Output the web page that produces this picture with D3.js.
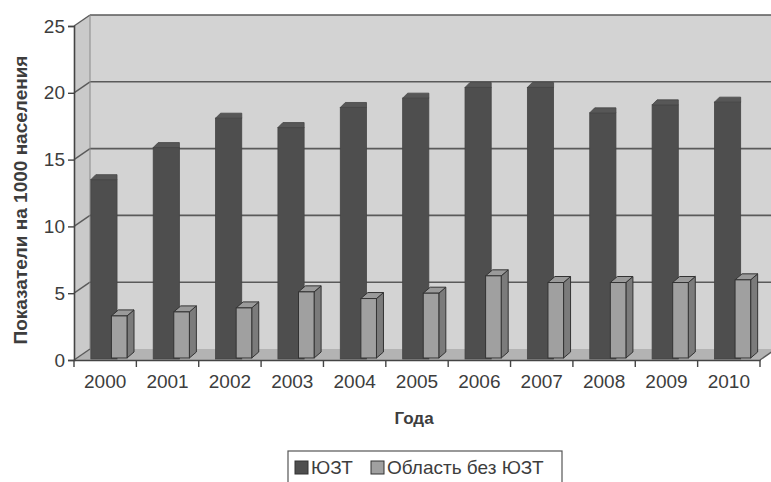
<!DOCTYPE html>
<html>
<head>
<meta charset="utf-8">
<script src="https://cdn.jsdelivr.net/npm/d3@7"></script>
<style>
  html, body { margin: 0; padding: 0; background: #fff; }
  svg { display: block; }
</style>
</head>
<body>
<svg id="chart" width="771" height="482"></svg>
<script>
// Years on the category axis
const years = ["2000", "2001", "2002", "2003", "2004", "2005", "2006", "2007", "2008", "2009", "2010"];
// Rates per 1000 population
const yztValues = [13.5, 15.9, 18.1, 17.4, 18.9, 19.6, 20.4, 20.4, 18.5, 19.1, 19.3];
const regionValues = [3.3, 3.6, 3.9, 5.1, 4.6, 5.0, 6.3, 5.8, 5.8, 5.8, 6.0];
const seriesNames = ["ЮЗТ", "Область без ЮЗТ"];
const yTicks = [0, 5, 10, 15, 20, 25];

const svg = d3.select("#chart");
const font = "'Liberation Sans', Arial, sans-serif";
const textColor = "#3d3d3d";

// Front plane of the 3D box
const x0 = 74, x1 = 760, yBottom = 360, yTop = 26;
// Depth offset to the back wall
const dx = 16, dy = 11;

const x = d3.scaleBand().domain(years).range([x0, x1]).padding(0);
const y = d3.scaleLinear().domain([0, 25]).range([yBottom, yTop]);

const g = svg.append("g");

// Back wall
g.append("rect")
  .attr("x", x0 + dx).attr("y", yTop - dy)
  .attr("width", 771 - (x0 + dx) + 2).attr("height", yBottom - yTop)
  .attr("fill", "#d3d3d3");

// Left side wall
g.append("path")
  .attr("d", `M${x0},${yTop} L${x0 + dx},${yTop - dy} L${x0 + dx},${yBottom - dy} L${x0},${yBottom} Z`)
  .attr("fill", "#cacaca");

// Floor
g.append("path")
  .attr("d", `M${x0},${yBottom} L${x0 + dx},${yBottom - dy} L${x1 + dx},${yBottom - dy} L${x1},${yBottom} Z`)
  .attr("fill", "#b3b3b3");

// Gridlines on the back wall
g.selectAll("line.grid").data(yTicks.filter(t => t > 0)).join("line")
  .attr("class", "grid")
  .attr("x1", x0 + dx).attr("x2", 771)
  .attr("y1", d => y(d) - dy).attr("y2", d => y(d) - dy)
  .attr("stroke", "#5a5a5a").attr("stroke-width", 1.6);

// Diagonal tick connectors on the side wall
g.selectAll("line.diag").data(yTicks).join("line")
  .attr("class", "diag")
  .attr("x1", x0).attr("y1", d => y(d))
  .attr("x2", x0 + dx).attr("y2", d => y(d) - dy)
  .attr("stroke", "#5a5a5a").attr("stroke-width", 1.4);

// Back wall left edge
g.append("line")
  .attr("x1", x0 + dx).attr("x2", x0 + dx)
  .attr("y1", yTop - dy).attr("y2", yBottom - dy)
  .attr("stroke", "#8a8a8a").attr("stroke-width", 1);

// Right floor edge
g.append("line")
  .attr("x1", x1).attr("y1", yBottom).attr("x2", x1 + dx).attr("y2", yBottom - dy)
  .attr("stroke", "#5a5a5a").attr("stroke-width", 1.4);

const bw = x.bandwidth();

// ЮЗТ columns (dark), drawn first so the other series sits in front
const darkCut = 5;
const darkG = g.append("g");
years.forEach((yr, i) => {
  const bx = x(yr) + bw * 0.27, w = bw * 0.42;
  const top = y(yztValues[i]);
  darkG.append("rect")
    .attr("x", bx).attr("y", top).attr("width", w).attr("height", yBottom - 1 - top)
    .attr("fill", "#4e4e4e").attr("stroke", "#454545").attr("stroke-width", 0.8);
  darkG.append("path")
    .attr("d", `M${bx},${top} L${bx + darkCut},${top - darkCut} L${bx + w},${top - darkCut} L${bx + w},${top} Z`)
    .attr("fill", "#575757").attr("stroke", "#454545").attr("stroke-width", 0.8);
});

// Область без ЮЗТ columns (light, with visible side and top faces)
const ldx = 7, ldy = 6;
const lightG = g.append("g");
years.forEach((yr, i) => {
  const bx = x(yr) + bw * 0.6, w = bw * 0.25;
  const top = y(regionValues[i]);
  const base = yBottom - 2;
  lightG.append("path")
    .attr("d", `M${bx + w},${top} L${bx + w + ldx},${top - ldy} L${bx + w + ldx},${base - ldy} L${bx + w},${base} Z`)
    .attr("fill", "#7b7b7b").attr("stroke", "#333").attr("stroke-width", 1);
  lightG.append("path")
    .attr("d", `M${bx},${top} L${bx + ldx},${top - ldy} L${bx + w + ldx},${top - ldy} L${bx + w},${top} Z`)
    .attr("fill", "#9a9a9a").attr("stroke", "#333").attr("stroke-width", 1);
  lightG.append("rect")
    .attr("x", bx).attr("y", top).attr("width", w).attr("height", base - top)
    .attr("fill", "#a0a0a0").attr("stroke", "#333").attr("stroke-width", 1);
});

// Value axis
const yAxis = d3.axisLeft(y).tickValues(yTicks).tickSize(6).tickPadding(3);
const ya = svg.append("g").attr("transform", `translate(${x0},0)`).call(yAxis);
ya.select(".domain").attr("stroke", "#444").attr("stroke-width", 1.6);
ya.selectAll(".tick line").attr("stroke", "#444").attr("stroke-width", 1.4);
ya.selectAll(".tick text").attr("font-family", font).attr("font-size", 19).attr("fill", textColor);

// Category axis
const xAxis = d3.axisBottom(x).tickSize(0).tickPadding(15);
const xa = svg.append("g").attr("transform", `translate(0,${yBottom})`).call(xAxis);
xa.select(".domain").attr("stroke", "#444").attr("stroke-width", 1.6);
xa.selectAll(".tick text").attr("font-family", font).attr("font-size", 19).attr("fill", textColor);
// Tick marks between categories
svg.append("g").selectAll("line").data(d3.range(years.length + 1)).join("line")
  .attr("x1", i => x0 + i * bw).attr("x2", i => x0 + i * bw)
  .attr("y1", yBottom).attr("y2", yBottom + 7)
  .attr("stroke", "#444").attr("stroke-width", 1.4);

// Axis titles
svg.append("text")
  .attr("transform", "translate(27,200) rotate(-90)")
  .attr("text-anchor", "middle")
  .attr("font-family", font).attr("font-size", 19).attr("font-weight", "bold")
  .attr("fill", textColor)
  .text("Показатели на 1000 населения");

svg.append("text")
  .attr("x", 414).attr("y", 424)
  .attr("text-anchor", "middle")
  .attr("font-family", font).attr("font-size", 17).attr("font-weight", "bold")
  .attr("fill", textColor)
  .text("Года");

// Legend
const lg = svg.append("g");
lg.append("rect")
  .attr("x", 288).attr("y", 451).attr("width", 274).attr("height", 40)
  .attr("fill", "#fff").attr("stroke", "#555").attr("stroke-width", 1.2);
lg.append("rect").attr("x", 295).attr("y", 461).attr("width", 13).attr("height", 13)
  .attr("fill", "#4e4e4e").attr("stroke", "#333").attr("stroke-width", 1);
lg.append("text").attr("x", 311).attr("y", 474)
  .attr("font-family", font).attr("font-size", 19).attr("fill", textColor)
  .text(seriesNames[0]);
lg.append("rect").attr("x", 371).attr("y", 461).attr("width", 13).attr("height", 13)
  .attr("fill", "#a0a0a0").attr("stroke", "#333").attr("stroke-width", 1);
lg.append("text").attr("x", 387).attr("y", 474)
  .attr("font-family", font).attr("font-size", 19).attr("fill", textColor)
  .text(seriesNames[1]);
</script>
</body>
</html>
